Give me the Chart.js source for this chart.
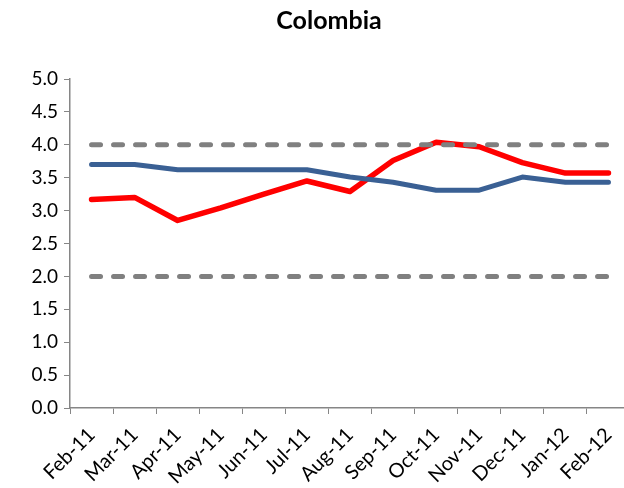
<!DOCTYPE html>
<html lang="es">
<head>
    <meta charset="UTF-8">
    <title>Colombia</title>
    <script src="https://cdn.jsdelivr.net/npm/chart.js"></script>
    <style>
        html, body { margin: 0; padding: 0; background: #fff; }
        #box { width: 624px; height: 488px; }
    </style>
</head>
<body>
    <div id="box"><canvas id="myChart"></canvas></div>
    <script>
        const months = ['Feb-11', 'Mar-11', 'Apr-11', 'May-11', 'Jun-11', 'Jul-11', 'Aug-11',
                        'Sep-11', 'Oct-11', 'Nov-11', 'Dec-11', 'Jan-12', 'Feb-12'];
        const redSeries  = [3.17, 3.2, 2.85, 3.04, 3.25, 3.45, 3.29, 3.76, 4.04, 3.97, 3.73, 3.57, 3.57];
        const blueSeries = [3.7, 3.7, 3.62, 3.62, 3.62, 3.62, 3.51, 3.43, 3.31, 3.31, 3.51, 3.43, 3.43];
        const upperBand = 4.0;
        const lowerBand = 2.0;
        const yTicks = [0, 0.5, 1, 1.5, 2, 2.5, 3, 3.5, 4, 4.5, 5];
        const chartTitle = 'Colombia';

        const axisGray = '#868686';
        const font = "Lato, 'Open Sans', sans-serif";

        const flat = v => months.map(() => v);
        const lineStyle = {
            pointRadius: 0,
            tension: 0,
            fill: false,
            borderJoinStyle: 'round',
            borderCapStyle: 'round'
        };

        // title sits a bit right of the canvas centre, like the chart object it comes from
        const titlePlugin = {
            id: 'topTitle',
            afterDraw(chart) {
                const ctx = chart.ctx;
                ctx.save();
                ctx.font = "bold 25px " + font;
                ctx.fillStyle = '#000';
                ctx.textAlign = 'center';
                ctx.textBaseline = 'middle';
                ctx.fillText(chartTitle, 329, 21);
                ctx.restore();
            }
        };

        // the plot area runs a few pixels past the canvas edge, so the last
        // category slot is cut off on the right
        const overhangPlugin = {
            id: 'overhang',
            afterLayout(chart) {
                const x = chart.scales.x;
                x.right = chart.width + 6;
                x.width = x.right - x.left;
                x.configure();
                chart.chartArea.right = x.right;
                chart.chartArea.width = x.right - chart.chartArea.left;
            }
        };

        new Chart(document.getElementById('myChart'), {
            type: 'line',
            data: {
                labels: months,
                datasets: [
                    { ...lineStyle, data: flat(upperBand), borderColor: '#808080', borderWidth: 5, borderDash: [9, 13] },
                    { ...lineStyle, data: flat(lowerBand), borderColor: '#808080', borderWidth: 5, borderDash: [9, 13] },
                    { ...lineStyle, data: blueSeries, borderColor: '#3A6094', borderWidth: 5 },
                    { ...lineStyle, data: redSeries, borderColor: '#FF0000', borderWidth: 5.5 }
                ]
            },
            options: {
                responsive: true,
                maintainAspectRatio: false,
                animation: false,
                layout: { padding: { left: 0, right: 0, top: 79, bottom: 0 } },
                plugins: {
                    legend: { display: false },
                    tooltip: { enabled: false },
                    title: { display: false }
                },
                scales: {
                    x: {
                        offset: true,
                        grid: {
                            offset: true,
                            drawOnChartArea: false,
                            drawTicks: true,
                            tickLength: 6,
                            color: axisGray
                        },
                        border: { color: axisGray, width: 1.5 },
                        ticks: {
                            color: '#000',
                            font: { family: font, size: 20 },
                            maxRotation: 45,
                            minRotation: 45,
                            autoSkip: false,
                            padding: 9
                        },
                        afterFit: s => {
                            s.height = 80;
                            s.paddingLeft = 0;
                            s.paddingRight = 0;
                        }
                    },
                    y: {
                        min: 0,
                        max: 5,
                        afterBuildTicks: s => { s.ticks = yTicks.map(v => ({ value: v })); },
                        grid: {
                            drawOnChartArea: false,
                            drawTicks: true,
                            tickLength: 6,
                            color: axisGray
                        },
                        border: { color: axisGray, width: 1.5 },
                        ticks: {
                            color: '#000',
                            font: { family: font, size: 19 },
                            padding: 6,
                            callback: v => Number(v).toFixed(1)
                        },
                        afterFit: s => { s.width = 70; }
                    }
                }
            },
            plugins: [titlePlugin, overhangPlugin]
        });
    </script>
</body>
</html>
